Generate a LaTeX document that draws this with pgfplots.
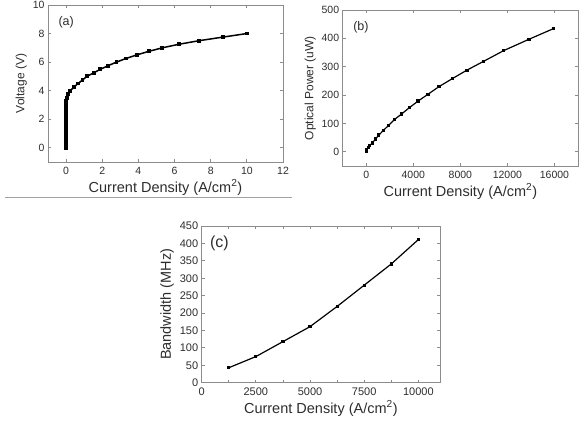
\documentclass[border=0pt]{standalone}
\usepackage{fontspec}
\setmainfont{Liberation Sans}
\usepackage{pgfplots}
\pgfplotsset{compat=1.18}
\definecolor{frame}{RGB}{140,140,140}
\definecolor{txt}{RGB}{45,45,45}
\pgfplotsset{
  panel/.style={
    scale only axis,
    anchor=south west,
    axis line style={frame, line width=0.9pt},
    tick style={frame, line width=0.8pt},
    major tick length=3pt,
    minor tick length=3pt,
    tick align=inside,
    /pgf/number format/assume math mode=true,
    /pgf/number format/1000 sep={},
    ticklabel style={font=\fontsize{10.5}{12}\selectfont, text=txt},
    xticklabel style={yshift=-2pt},
    label style={text=txt},
    xlabel style={font=\fontsize{14.5}{16}\selectfont},
    ylabel style={font=\fontsize{12}{13}\selectfont},
    scaled ticks=false,
    clip=false,
  },
  dat/.style={black, line width=1.2pt, mark=square*, mark size=1.1pt},
}
\begin{document}
\begin{tikzpicture}
\useasboundingbox (0pt,0pt) rectangle (585pt,421pt);
\draw[frame!80, line width=0.8pt] (5pt,223.5pt) -- (292pt,223.5pt);

% (a)
\begin{axis}[panel,
  at={(48pt,259pt)}, width=235pt, height=157pt,
  xmin=-1, xmax=12, ymin=-1, ymax=10,
  xtick={0,2,...,12}, ytick={0,2,...,10},
  xlabel={Current Density (A/cm\textsuperscript{2})},
  ylabel={Voltage (V)},
  xlabel style={yshift=2pt},
  ylabel style={yshift=-1pt},
]
\addplot[dat, line width=1.5pt, mark size=1.2pt] coordinates {
(0,0) (0,0.25) (0,0.5) (0,0.75) (0,1.0) (0,1.25) (0,1.5) (0,1.75)
(0,2.0) (0,2.25) (0,2.5) (0,2.75) (0,3.0) (0.015,3.25) (0.04,3.5)
(0.11,3.75) (0.24,4.0) (0.43,4.25) (0.67,4.5) (0.91,4.75) (1.16,5.0)
(1.53,5.25) (1.9,5.5) (2.33,5.75) (2.79,6.0) (3.31,6.25) (3.9,6.5)
(4.57,6.75) (5.32,7.0) (6.25,7.25) (7.36,7.5) (8.67,7.75) (10.0,8.0)
};
\node[font=\fontsize{12.5}{14}\selectfont, text=txt, anchor=north west] at (rel axis cs:0.03,0.95) {(a)};
\end{axis}

% (b)
\begin{axis}[panel,
  at={(342.7pt,255pt)}, width=235.3pt, height=156pt,
  xmin=-2000, xmax=18000, ymin=-50, ymax=500,
  xtick={0,4000,...,16000}, ytick={0,100,...,500},
  xlabel={Current Density (A/cm\textsuperscript{2})},
  ylabel={Optical Power (uW)},
  xlabel style={yshift=2pt},
  ylabel style={yshift=-1pt},
]
\addplot[dat, mark size=1pt] coordinates {
(0,0) (56,8) (169,15) (311,22) (508,31) (791,45) (1073,59) (1469,76)
(1921,94) (2373,113) (2994,133) (3644,155) (4407,179) (5254,203)
(6186,230) (7316,258) (8559,288) (9972,319) (11695,357) (13842,397)
(15950,435)
};
\node[font=\fontsize{12.5}{14}\selectfont, text=txt, anchor=north west] at (rel axis cs:0.03,0.95) {(b)};
\end{axis}

% (c)
\begin{axis}[panel,
  at={(201.7pt,38.3pt)}, width=238.3pt, height=156.7pt,
  xmin=0, xmax=11000, ymin=0, ymax=450,
  xtick={0,2500,...,10000}, minor xtick={1250,3750,...,8750},
  ytick={0,50,...,450},
  ticklabel style={font=\fontsize{11}{12}\selectfont},
  xlabel={Current Density (A/cm\textsuperscript{2})},
  ylabel={Bandwidth (MHz)},
  ylabel style={font=\fontsize{14.5}{16}\selectfont, yshift=-1pt},
  xlabel style={yshift=2pt},
]
\addplot[dat, mark size=1pt] coordinates {
(1250,43) (2500,75) (3750,118) (5000,161) (6250,219) (7500,280)
(8750,341) (10000,411)
};
\node[font=\fontsize{16}{18}\selectfont, text=txt, anchor=north west] at (rel axis cs:0.02,0.96) {(c)};
\end{axis}
\end{tikzpicture}
\end{document}
